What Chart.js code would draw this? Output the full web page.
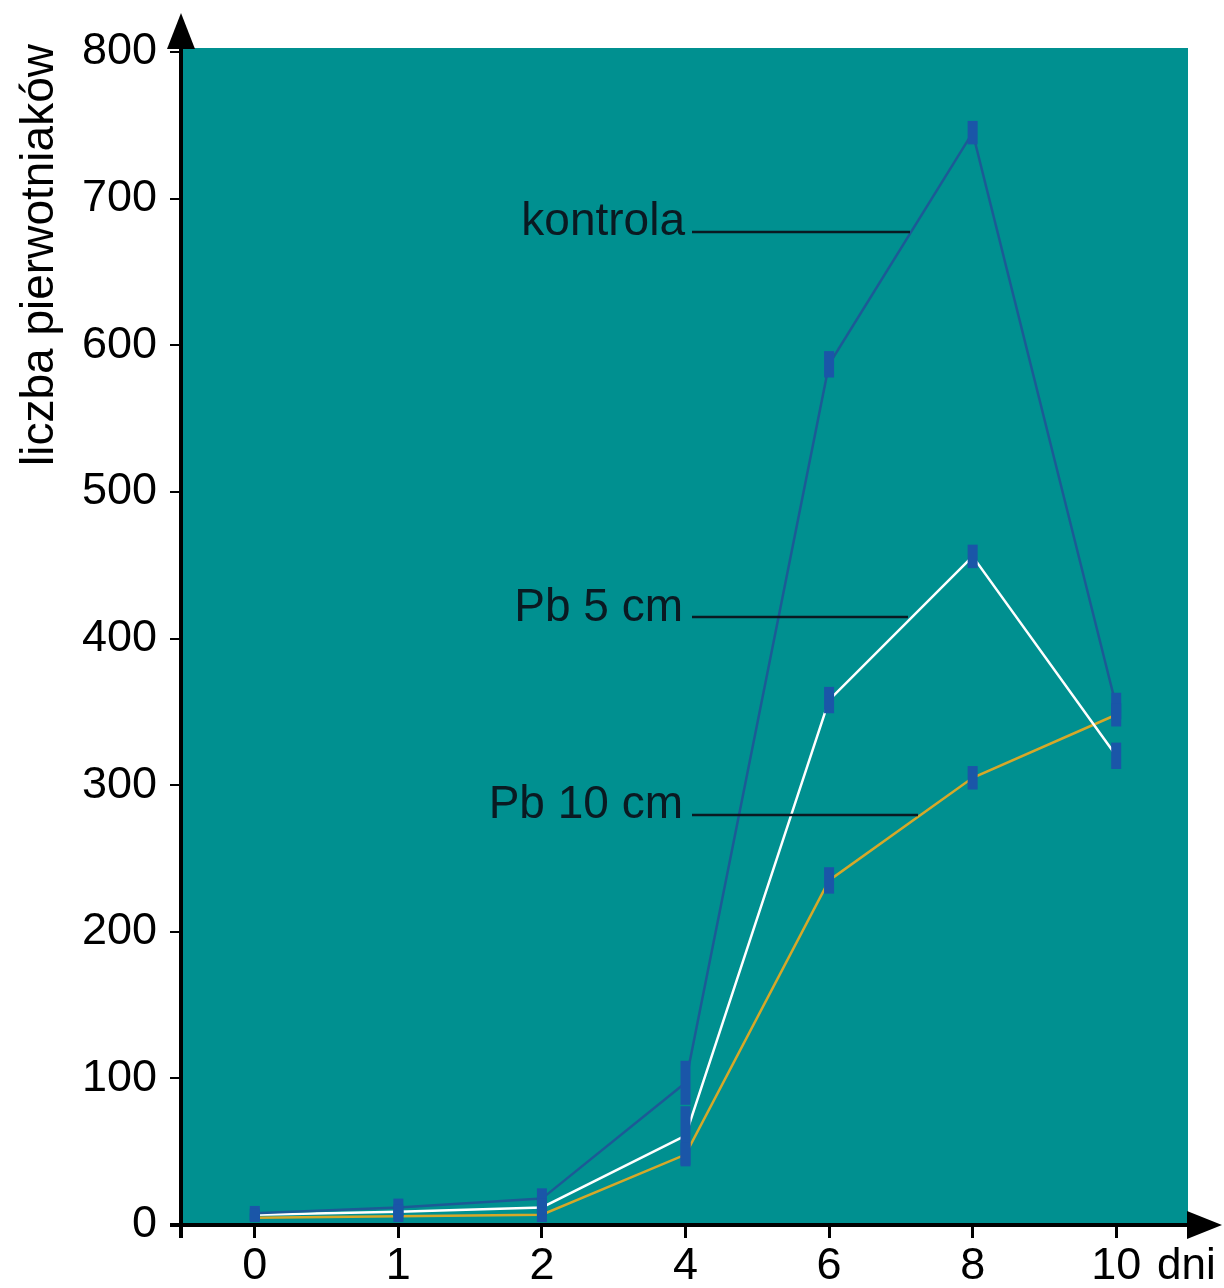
<!DOCTYPE html>
<html><head><meta charset="utf-8">
<script src="https://cdn.jsdelivr.net/npm/chart.js@4/dist/chart.umd.min.js"></script>
<style>html,body{margin:0;padding:0;background:#fff}#wrap{width:1224px;height:1288px}</style>
</head><body><div id="wrap"><canvas id="c" width="1224" height="1288"></canvas></div>
<script>
// ---- data ----
const days = ['0', '1', '2', '4', '6', '8', '10'];
const kontrola = [8, 12, 18, 97, 587, 745, 354];
const pb5 = [7, 9, 12, 61, 358, 456, 320];
const pb10 = [5, 6, 7, 48, 235, 305, 348];
const kontrolaErr = [5, 6, 7, 15, 9, 8, 9];
const pb5Err = [4, 5, 6, 20, 9, 8, 9];
const pb10Err = [3, 4, 5, 8, 9, 8, 8];
const yTicks = [0, 100, 200, 300, 400, 500, 600, 700, 800];
const seriesNames = ['kontrola', 'Pb 5 cm', 'Pb 10 cm'];
const xUnit = 'dni';
const yTitle = 'liczba pierwotniaków';

// ---- styles ----
const FONT = "'Liberation Sans', Arial, Helvetica, sans-serif";
const TEAL = 'rgb(0,144,144)';
const BAR = 'rgb(26,86,168)';

const errs = [kontrolaErr, pb5Err, pb10Err];

const bgPlugin = {
  id: 'bg',
  beforeDraw(chart) {
    const {ctx, chartArea: a} = chart;
    ctx.save();
    ctx.fillStyle = '#fff';
    ctx.fillRect(0, 0, chart.width, chart.height);
    ctx.fillStyle = TEAL;
    ctx.fillRect(a.left, a.top - 4, a.right - a.left, a.bottom - a.top + 4);
    ctx.restore();
  }
};

const errPlugin = {
  id: 'errbars',
  afterDatasetsDraw(chart) {
    const {ctx} = chart;
    const xs = chart.scales.x, ys = chart.scales.y;
    ctx.save();
    ctx.fillStyle = BAR;
    chart.data.datasets.forEach((ds, i) => {
      ds.data.forEach((v, j) => {
        const e = errs[i][j];
        const x = xs.getPixelForValue(j);
        const t = ys.getPixelForValue(v + e);
        const b = ys.getPixelForValue(v - e);
        ctx.fillRect(x - 5, t, 10, b - t);
      });
    });
    ctx.restore();
  }
};

const axisPlugin = {
  id: 'axes',
  afterDraw(chart) {
    const {ctx, chartArea: a} = chart;
    ctx.save();
    ctx.strokeStyle = '#000';
    ctx.fillStyle = '#000';
    ctx.lineWidth = 4;
    // y axis
    const ax = a.left - 2;
    ctx.beginPath();
    ctx.moveTo(ax, a.bottom + 13);
    ctx.lineTo(ax, 40);
    ctx.stroke();
    ctx.beginPath();
    ctx.moveTo(ax, 13);
    ctx.lineTo(ax - 14, 49);
    ctx.lineTo(ax + 14, 49);
    ctx.closePath();
    ctx.fill();
    // x axis
    ctx.beginPath();
    ctx.moveTo(a.left - 13, a.bottom);
    ctx.lineTo(a.right + 10, a.bottom);
    ctx.stroke();
    ctx.beginPath();
    ctx.moveTo(1222, a.bottom);
    ctx.lineTo(a.right - 1, a.bottom - 14);
    ctx.lineTo(a.right - 1, a.bottom + 14);
    ctx.closePath();
    ctx.fill();
    // unit label
    ctx.font = '44px ' + FONT;
    ctx.textAlign = 'left';
    ctx.textBaseline = 'alphabetic';
    ctx.fillText(xUnit, 1157, 1279);
    // y title
    ctx.save();
    ctx.font = '46px ' + FONT;
    ctx.translate(53, 255);
    ctx.rotate(-Math.PI / 2);
    ctx.textAlign = 'center';
    ctx.fillText(yTitle, 0, 0);
    ctx.restore();
    // series labels with leader lines
    const labs = [
      {t: seriesNames[0], tx: 685, ty: 235, ly: 232, lx1: 692, lx2: 910},
      {t: seriesNames[1], tx: 683, ty: 621, ly: 617, lx1: 692, lx2: 908},
      {t: seriesNames[2], tx: 683, ty: 818, ly: 815, lx1: 692, lx2: 918}
    ];
    ctx.font = '46px ' + FONT;
    ctx.textAlign = 'right';
    ctx.lineWidth = 2.5;
    ctx.strokeStyle = '#0a1a22';
    ctx.fillStyle = '#0a1a22';
    labs.forEach(l => {
      ctx.fillText(l.t, l.tx, l.ty);
      ctx.beginPath();
      ctx.moveTo(l.lx1, l.ly);
      ctx.lineTo(l.lx2, l.ly);
      ctx.stroke();
    });
    ctx.restore();
  }
};

new Chart(document.getElementById('c'), {
  type: 'line',
  data: {
    labels: days,
    datasets: [
      {label: seriesNames[0], data: kontrola, borderColor: 'rgb(28,90,150)', borderWidth: 2.5, pointRadius: 0, tension: 0},
      {label: seriesNames[1], data: pb5, borderColor: '#ffffff', borderWidth: 2.5, pointRadius: 0, tension: 0},
      {label: seriesNames[2], data: pb10, borderColor: 'rgb(214,168,40)', borderWidth: 2.5, pointRadius: 0, tension: 0}
    ]
  },
  options: {
    responsive: false,
    animation: false,
    devicePixelRatio: 1,
    layout: {padding: {left: 0, top: 52, right: 36, bottom: 0}},
    plugins: {legend: {display: false}, tooltip: {enabled: false}},
    scales: {
      x: {
        type: 'category',
        offset: true,
        border: {display: false},
        grid: {display: true, drawOnChartArea: false, drawTicks: true, tickLength: 13, color: '#000', lineWidth: 3, offset: false},
        ticks: {color: '#000', font: {family: FONT, size: 45}, padding: 2, maxRotation: 0, autoSkip: false},
        afterFit(s) { s.height = 63; }
      },
      y: {
        min: 0, max: 800,
        border: {display: false},
        grid: {display: true, drawOnChartArea: false, drawTicks: true, tickLength: 13, color: '#000', lineWidth: 2},
        ticks: {color: '#000', font: {family: FONT, size: 45}, padding: 13},
        afterBuildTicks(s) { s.ticks = yTicks.map(v => ({value: v})); },
        afterFit(s) { s.width = 183; }
      }
    }
  },
  plugins: [bgPlugin, errPlugin, axisPlugin]
});
</script>
</body></html>
